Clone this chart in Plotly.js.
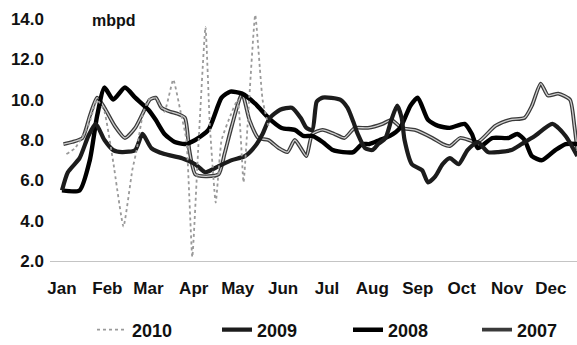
<!DOCTYPE html>
<html>
<head>
<meta charset="utf-8">
<script src="https://cdn.plot.ly/plotly-3.0.1.min.js"></script>
<style>html,body{margin:0;padding:0;background:#fff;}#chart{width:577px;height:345px;}</style>
</head>
<body>
<div id="chart"></div>
<script>
// Day of year (x) and million barrels per day (y)
const monthTicks = [0, 31, 59, 90, 120, 151, 181, 212, 243, 273, 304, 334];
const monthLabels = ['Jan', 'Feb', 'Mar', 'Apr', 'May', 'Jun', 'Jul', 'Aug', 'Sep', 'Oct', 'Nov', 'Dec'];
const yTicks = [2, 4, 6, 8, 10, 12, 14];
const yTickLabels = ['2.0', '4.0', '6.0', '8.0', '10.0', '12.0', '14.0'];

const days2010 = [3, 9, 18, 24, 29, 35, 42, 48, 51, 55, 59, 64, 70, 76, 81, 85, 89, 93, 98, 101, 105, 109, 115, 120, 124, 127, 132, 137, 141];
const vals2010 = [7.3, 7.6, 8.7, 10.0, 9.4, 6.9, 3.7, 6.5, 7.5, 9.2, 10.0, 10.1, 9.4, 11.0, 9.4, 8.0, 2.2, 7.5, 13.6, 8.7, 4.9, 8.0, 9.2, 10.0, 5.9, 9.0, 14.2, 10.0, 8.7];

const days2009 = [0, 4, 12, 18, 23, 29, 35, 41, 50, 55, 61, 70, 82, 91, 98, 107, 116, 125, 132, 137, 142, 149, 157, 163, 167, 171, 174, 178, 190, 195, 199, 202, 207, 212, 216, 221, 225, 229, 232, 234, 239, 246, 250, 255, 260, 265, 271, 277, 284, 291, 298, 307, 314, 323, 335, 344, 352];
const vals2009 = [5.5, 6.4, 7.1, 8.2, 8.8, 8.0, 7.5, 7.4, 7.5, 8.3, 7.6, 7.3, 7.1, 6.8, 6.4, 6.7, 7.0, 7.2, 7.7, 8.3, 9.1, 9.5, 9.6, 9.1, 8.6, 8.5, 9.9, 10.1, 10.0, 9.6, 8.9, 8.3, 7.6, 7.5, 7.8, 8.1, 9.0, 9.7, 9.1, 8.0, 6.8, 6.5, 5.9, 6.2, 6.8, 7.1, 6.8, 7.5, 7.9, 7.4, 7.4, 7.5, 7.8, 8.2, 8.8, 8.2, 7.2];

const days2008 = [0, 12, 19, 24, 29, 35, 43, 50, 59, 64, 70, 77, 84, 91, 100, 109, 115, 123, 132, 141, 150, 159, 165, 171, 178, 185, 192, 199, 205, 210, 217, 224, 231, 238, 243, 250, 257, 265, 275, 280, 284, 294, 305, 311, 316, 321, 328, 337, 344, 352];
const vals2008 = [5.5, 5.5, 7.0, 9.2, 10.6, 10.0, 10.6, 10.1, 9.5, 9.0, 8.3, 7.9, 7.8, 8.0, 8.5, 10.1, 10.4, 10.3, 9.8, 9.1, 8.6, 8.5, 8.2, 8.2, 7.9, 7.5, 7.4, 7.4, 7.8, 7.8, 8.0, 8.2, 8.6, 9.7, 10.1, 9.0, 8.7, 8.6, 8.8, 8.3, 7.6, 8.1, 8.1, 8.3, 8.0, 7.2, 7.0, 7.5, 7.8, 7.8];

const days2007 = [1, 7, 14, 19, 24, 29, 36, 43, 50, 55, 60, 64, 68, 74, 79, 84, 87, 91, 98, 107, 111, 116, 123, 128, 134, 141, 148, 154, 159, 164, 167, 171, 178, 186, 193, 200, 209, 219, 225, 232, 241, 253, 260, 265, 272, 284, 296, 306, 316, 321, 327, 332, 339, 347, 350, 352];
const vals2007 = [7.8, 7.9, 8.1, 9.2, 10.1, 9.6, 8.7, 8.1, 8.6, 9.3, 10.0, 10.1, 9.6, 9.4, 9.3, 9.1, 7.5, 6.3, 6.2, 6.3, 7.3, 8.7, 10.3, 9.0, 8.1, 8.0, 7.6, 7.4, 8.0, 7.5, 7.2, 8.3, 8.5, 8.3, 8.1, 8.6, 8.6, 8.8, 9.0, 8.6, 8.5, 8.1, 7.8, 7.7, 8.1, 7.9, 8.7, 9.0, 9.1, 9.7, 10.8, 10.2, 10.3, 10.0, 8.7, 7.5];

const FONT = 'Liberation Sans, Arial, Helvetica, sans-serif';

const traces = [
  {x: days2007, y: vals2007, name: '2007', legend: 'legend4', legendgroup: '2007', mode: 'lines',
   line: {color: '#3a3a3a', width: 3.8, shape: 'spline', smoothing: 0.6}},
  {x: days2007, y: vals2007, name: '2007', legend: 'legend4', legendgroup: '2007', showlegend: false, mode: 'lines',
   line: {color: '#cfcfcf', width: 1.3, shape: 'spline', smoothing: 0.6}},
  {x: days2008, y: vals2008, name: '2008', legend: 'legend3', mode: 'lines',
   line: {color: '#000000', width: 4.4, shape: 'spline', smoothing: 0.6}},
  {x: days2009, y: vals2009, name: '2009', legend: 'legend2', mode: 'lines',
   line: {color: '#1c1c1c', width: 4.2, shape: 'spline', smoothing: 0.6}},
  {x: days2010, y: vals2010, name: '2010', legend: 'legend', mode: 'lines',
   line: {color: '#9a9a9a', width: 1.8, dash: 'dot', shape: 'spline', smoothing: 0.4}}
];

const tickFont = {family: FONT, size: 17, color: '#111', weight: 'bold'};
const legendFont = {family: FONT, size: 18, color: '#111', weight: 'bold'};
function legendAt(px) {
  return {orientation: 'h', xref: 'container', yref: 'container', x: px / 577, y: 15 / 345,
          xanchor: 'left', yanchor: 'middle', bgcolor: 'rgba(0,0,0,0)', font: legendFont};
}

const layout = {
  width: 577, height: 345,
  margin: {l: 50, r: 0, t: 10, b: 84},
  paper_bgcolor: '#ffffff', plot_bgcolor: '#ffffff',
  showlegend: true,
  xaxis: {
    range: [-8.2, 351.8], tickmode: 'array', tickvals: monthTicks, ticktext: monthLabels,
    showgrid: false, zeroline: false, showline: true, linecolor: '#c4c4c4', linewidth: 1,
    ticks: '', tickfont: tickFont, ticklabelstandoff: 12, fixedrange: true
  },
  yaxis: {
    range: [2, 14.446], tickmode: 'array', tickvals: yTicks, ticktext: yTickLabels,
    showgrid: false, zeroline: false, showline: false,
    ticks: '', tickfont: tickFont, ticklabelstandoff: 5, fixedrange: true
  },
  annotations: [{
    text: 'mbpd', xref: 'x', yref: 'y', x: 19, y: 13.95, xanchor: 'left', yanchor: 'middle',
    showarrow: false, font: {family: FONT, size: 16, color: '#111', weight: 'bold'}
  }],
  legend: legendAt(92),
  legend2: legendAt(217),
  legend3: legendAt(348),
  legend4: legendAt(477)
};

Plotly.newPlot('chart', traces, layout, {staticPlot: true, displayModeBar: false});
</script>
</body>
</html>
